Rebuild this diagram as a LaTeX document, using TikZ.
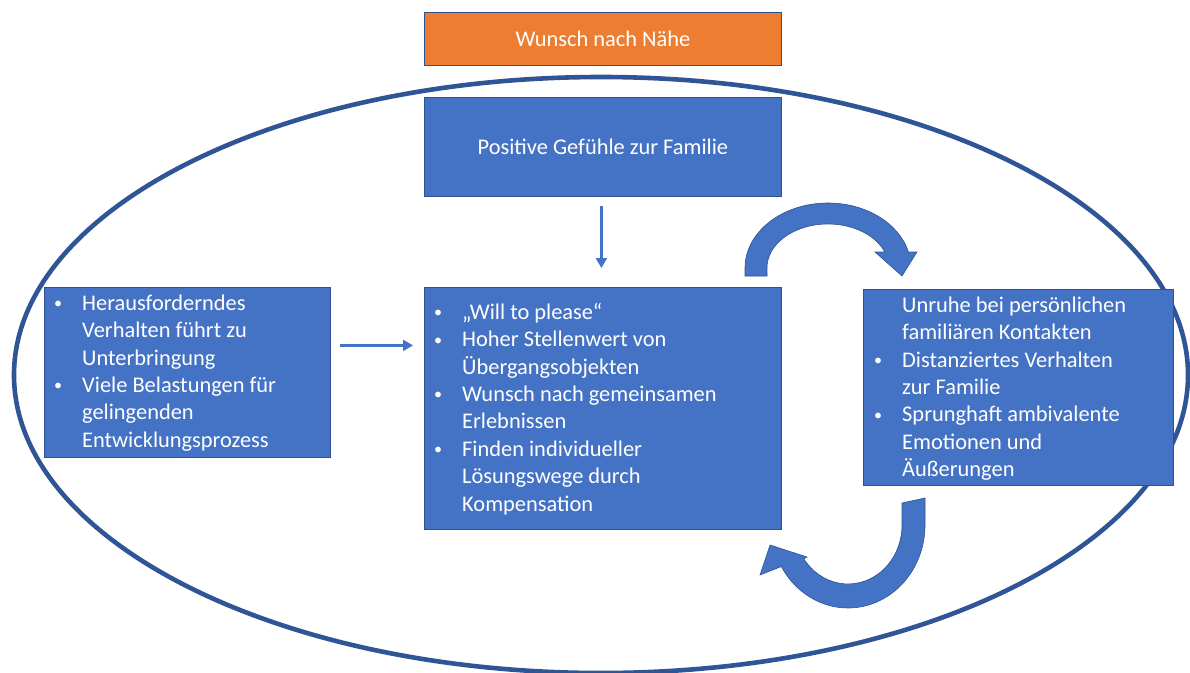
\documentclass[tikz,border=0pt]{standalone}
\usepackage{fontspec}
\setmainfont{Carlito}
\usetikzlibrary{arrows.meta,calc}
\definecolor{boxblue}{HTML}{4472C4}
\definecolor{edgeblue}{HTML}{2F528F}
\definecolor{ringblue}{HTML}{2F5597}
\definecolor{accent}{HTML}{ED7D31}
% small list bullet, centred on the x-height
\newcommand\bl{\hspace{1pt}\raisebox{1.6pt}{\scalebox{0.72}{\textbullet}}}
\begin{document}
\begin{tikzpicture}[x=1pt,y=-1pt,
  card/.style={draw=edgeblue,line width=0.8pt,fill=boxblue,inner sep=0pt,anchor=north west},
  boxtext/.style={text=white,font=\fontsize{22.4}{27.4}\selectfont,inner sep=0pt},
  listtext/.style={boxtext,anchor=north west},
  flow/.style={draw=boxblue,line width=2.2pt,-{Triangle[length=10pt,width=11pt]}},
  ring/.style={draw=ringblue,line width=4.6pt},
  curlarrow/.style={fill=boxblue,draw=edgeblue,line width=0.6pt,line join=miter}]
\useasboundingbox (0,0) rectangle (1190,672);
\clip (0,0) rectangle (1190,672);

% surrounding ellipse
\draw[ring] (601,375) ellipse [x radius=587, y radius=298];

% boxes
\node[card,fill=accent,minimum width=357pt,minimum height=53pt] (wish) at (424,12) {};
\node[boxtext] (wishtxt) at (wish.center) {Wunsch nach Nähe};

\node[card,minimum width=357pt,minimum height=99pt] (pos) at (424,97) {};
\node[boxtext] (postxt) at (pos.center) {Positive Gefühle zur Familie};

\node[card,minimum width=286pt,minimum height=170pt] (left) at (44,287) {};
\node[listtext] (lefttxt) at (53,291) {\begin{tabular}{@{}p{29pt}@{}l@{}}
\bl & Herausforderndes\\
    & Verhalten führt zu\\
    & Unterbringung\\
\bl & Viele Belastungen für\\
    & gelingenden\\
    & Entwicklungsprozess
\end{tabular}};

\node[card,minimum width=357pt,minimum height=242pt] (mid) at (424,287) {};
\node[listtext] (midtxt) at (433,300) {\begin{tabular}{@{}p{29pt}@{}l@{}}
\bl & „Will to please“\\
\bl & Hoher Stellenwert von\\
    & Übergangsobjekten\\
\bl & Wunsch nach gemeinsamen\\
    & Erlebnissen\\
\bl & Finden individueller\\
    & Lösungswege durch\\
    & Kompensation
\end{tabular}};

\node[card,minimum width=310pt,minimum height=196pt] (right) at (863,289) {};
\node[listtext] (righttxt) at (873,293) {\begin{tabular}{@{}p{29pt}@{}l@{}}
    & Unruhe bei persönlichen\\
    & familiären Kontakten\\
\bl & Distanziertes Verhalten\\
    & zur Familie\\
\bl & Sprunghaft ambivalente\\
    & Emotionen und\\
    & Äußerungen
\end{tabular}};

% straight connectors
\draw[flow,shorten <=9pt,shorten >=19pt] ([xshift=-1.5pt]pos.south) -- ([xshift=-1.5pt]mid.north);
\draw[flow,shorten <=9pt,shorten >=11pt] ([yshift=27pt]left.east) -- ([yshift=27pt]left.east -| mid.west);

% curved block arrows
\filldraw[curlarrow] (745,276) -- (745,268)
  arc[start angle=180,end angle=345.8,x radius=83,y radius=65]
  -- (917,252) -- (902,276) -- (875,252) -- (884.8,252)
  arc[start angle=338.7,end angle=180,x radius=61,y radius=44]
  -- (767,276) -- cycle;

\filldraw[curlarrow] (902,503) -- (925,498) -- (925,525)
  arc[start angle=0,end angle=150,x radius=77,y radius=83]
  -- (760,575) -- (770,545) -- (807,557) -- (803.8,558.8)
  arc[start angle=145,end angle=0,x radius=54,y radius=59]
  -- cycle;
\end{tikzpicture}
\end{document}
